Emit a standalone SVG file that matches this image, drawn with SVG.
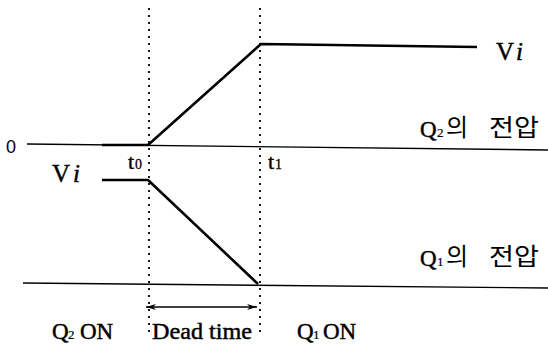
<svg xmlns="http://www.w3.org/2000/svg" width="548" height="352" viewBox="0 0 548 352">
<style>
.serif{font-family:"Liberation Serif","Times New Roman",serif;fill:#000;stroke:#000;stroke-width:0.45}
.kr{font-family:"Noto Sans CJK KR",sans-serif;fill:#000}
.axis{stroke:#000;stroke-width:1.4;fill:none}
.wave{stroke:#000;stroke-width:2.6;fill:none;stroke-linejoin:round}
.dot{stroke:#000;stroke-width:1.8;stroke-dasharray:2 5;fill:none}
</style>
<defs>
<marker id="ah" viewBox="0 0 10 6" refX="10" refY="3" markerWidth="10" markerHeight="6" markerUnits="userSpaceOnUse" orient="auto-start-reverse">
<path d="M0,0 L10,3 L0,6 L3,3 Z" fill="#000"/>
</marker>
</defs>
<g id="guides">
<line class="dot" x1="149" y1="8" x2="149" y2="332"/>
<line class="dot" x1="260" y1="8" x2="260" y2="332"/>
</g>
<g id="axes">
<line class="axis" x1="27" y1="144" x2="548" y2="150"/>
<line class="axis" x1="23" y1="283" x2="548" y2="288"/>
</g>
<g id="q2-wave">
<polyline class="wave" points="102,145 148,145 261,44 477,47"/>
</g>
<g id="q1-wave">
<polyline class="wave" points="102,180 148,180 258,284"/>
</g>
<g id="connectors">
<line x1="146" y1="307" x2="257" y2="307" stroke="#000" stroke-width="1.4" marker-start="url(#ah)" marker-end="url(#ah)"/>
</g>
<g id="labels">
<text x="6" y="153" font-family="Liberation Sans, sans-serif" font-size="19" textLength="10" lengthAdjust="spacingAndGlyphs">0</text>
<text class="serif" x="128" y="169" font-size="22">t</text><text class="serif" x="135" y="169" font-size="14" style="stroke-width:0.3">0</text>
<text class="serif" x="268" y="169" font-size="22">t</text><text class="serif" x="275" y="169" font-size="14" style="stroke-width:0.3">1</text>
<text class="serif" x="52" y="182" font-size="25">V<tspan font-style="italic" dx="3">i</tspan></text>
<text class="serif" x="496" y="60" font-size="25">V<tspan font-style="italic" dx="2">i</tspan></text>
<text class="serif" x="420" y="137" font-size="23">Q</text><text class="serif" x="437" y="137" font-size="13" style="stroke-width:0.2">2</text>
<text class="kr" x="446" y="136" font-size="24">의</text>
<text class="kr" x="489" y="136" font-size="24" textLength="50" lengthAdjust="spacingAndGlyphs">전압</text>
<text class="serif" x="420" y="266" font-size="23">Q</text><text class="serif" x="437" y="266" font-size="13" style="stroke-width:0.2">1</text>
<text class="kr" x="446" y="265" font-size="24">의</text>
<text class="kr" x="489" y="265" font-size="24" textLength="50" lengthAdjust="spacingAndGlyphs">전압</text>
<text class="serif" x="52" y="339" font-size="23">Q</text><text class="serif" x="68" y="339" font-size="13" style="stroke-width:0.2">2</text><text class="serif" x="80" y="339" font-size="23">ON</text>
<text class="serif" x="152" y="339" font-size="23" textLength="100" lengthAdjust="spacingAndGlyphs">Dead time</text>
<text class="serif" x="297" y="339" font-size="23">Q</text><text class="serif" x="313" y="339" font-size="13" style="stroke-width:0.2">1</text><text class="serif" x="323" y="339" font-size="23">ON</text>
</g>
</svg>
